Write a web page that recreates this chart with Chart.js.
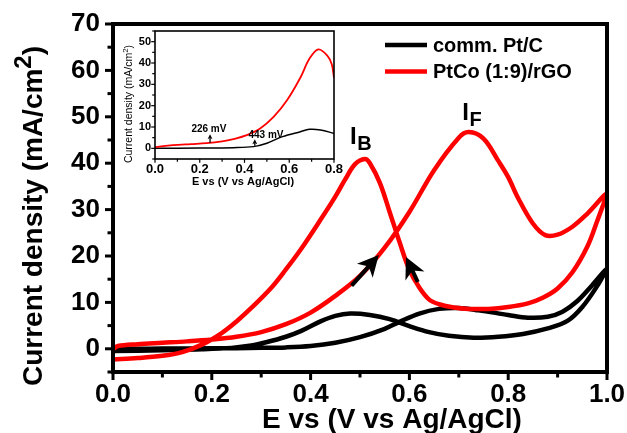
<!DOCTYPE html>
<html>
<head>
<meta charset="utf-8">
<title>CV PtCo/rGO vs Pt/C</title>
<script src="https://cdn.jsdelivr.net/npm/chart.js@4.4.1/dist/chart.umd.min.js"></script>
<style>
  html, body { margin: 0; padding: 0; background: #fff; }
  #wrap { position: relative; width: 627px; height: 433px; overflow: hidden; }
  canvas { position: absolute; }
  #main { left: 0; top: 0; }
  #inset { left: 115px; top: 27px; }
</style>
</head>
<body>
<div id="wrap">
  <canvas id="main" width="627" height="433"></canvas>
  <canvas id="inset" width="237" height="168"></canvas>
</div>
<script>
// E in V vs Ag/AgCl, j in mA/cm2

// PtCo (1:9)/rGO, forward (anodic) scan then reverse scan
const ptcoFwdE = [0, 0.01, 0.05, 0.1, 0.15, 0.2, 0.25, 0.3, 0.35, 0.4, 0.45, 0.5, 0.55, 0.6, 0.65, 0.7, 0.72, 0.75, 0.78, 0.8, 0.82, 0.85, 0.875, 0.9, 0.93, 0.96, 1.0];
const ptcoFwdJ = [-0.1, 0.6, 1.0, 1.3, 1.6, 2.0, 2.6, 3.6, 5.3, 7.8, 11.4, 15.7, 21.8, 29.5, 38.5, 45.5, 46.7, 45.3, 40.5, 37.0, 32.5, 27.0, 24.5, 24.6, 26.3, 29.1, 33.4];
const ptcoRevE = [1.0, 0.98, 0.96, 0.93, 0.9, 0.87, 0.84, 0.8, 0.76, 0.72, 0.69, 0.66, 0.64, 0.62, 0.6, 0.58, 0.56, 0.54, 0.52, 0.51, 0.49, 0.47, 0.45, 0.42, 0.38, 0.35, 0.32, 0.28, 0.25, 0.22, 0.18, 0.14, 0.1, 0.05, 0.0];
const ptcoRevJ = [33.4, 27.5, 22.0, 16.5, 13.0, 11.0, 9.8, 9.0, 8.6, 8.6, 8.9, 9.6, 10.6, 13.2, 17.0, 23.0, 29.5, 35.8, 40.0, 40.9, 39.8, 36.5, 32.8, 27.8, 21.4, 17.1, 13.1, 8.8, 5.9, 3.4, 0.9, -0.7, -1.5, -2.0, -2.3];

// comm. Pt/C
const ptFwdE = [0, 0.05, 0.1, 0.2, 0.3, 0.35, 0.4, 0.45, 0.5, 0.55, 0.58, 0.62, 0.66, 0.7, 0.74, 0.8, 0.84, 0.88, 0.91, 0.94, 0.97, 1.0];
const ptFwdJ = [0.0, 0.0, 0.05, 0.1, 0.2, 0.3, 0.6, 1.3, 2.5, 4.3, 5.8, 7.6, 8.6, 8.8, 8.3, 7.3, 6.7, 6.9, 8.0, 10.3, 13.7, 17.3];
const ptRevE = [1.0, 0.98, 0.95, 0.92, 0.88, 0.83, 0.78, 0.73, 0.68, 0.64, 0.6, 0.56, 0.52, 0.48, 0.45, 0.42, 0.38, 0.35, 0.31, 0.28, 0.24, 0.18, 0.1, 0.0];
const ptRevJ = [17.3, 13.5, 9.0, 6.0, 4.4, 3.2, 2.6, 2.4, 2.8, 3.6, 4.9, 6.4, 7.3, 7.6, 7.1, 5.9, 3.8, 2.6, 1.4, 0.7, 0.2, -0.1, -0.3, -0.5];

// inset: forward scans only
const insetPtcoE = [0, 0.08, 0.16, 0.23, 0.3, 0.36, 0.41, 0.47, 0.53, 0.59, 0.65, 0.69, 0.73, 0.77, 0.79, 0.8];
const insetPtcoJ = [0.6, 1.5, 2.0, 2.4, 3.3, 4.6, 6.2, 9.3, 14.7, 22.5, 33.2, 42.0, 46.4, 43.5, 39.4, 33.0];
const insetPtE = [0, 0.2, 0.35, 0.44, 0.5, 0.57, 0.65, 0.69, 0.74, 0.8];
const insetPtJ = [0, 0.1, 0.3, 0.8, 2.4, 5.5, 7.8, 8.9, 8.6, 7.0];

// tick labels
const mainXLabels = [0, 0.2, 0.4, 0.6, 0.8, 1.0];
const mainYLabels = [0, 10, 20, 30, 40, 50, 60, 70];
const insetXLabels = [0, 0.2, 0.4, 0.6, 0.8];
const insetYLabels = [0, 10, 20, 30, 40, 50];

// annotations (data units)
const peakLabels = [
  { main: 'I', sub: 'B', E: 0.48, J: 44.1 },
  { main: 'I', sub: 'F', E: 0.707, J: 49.3 }
];
const scanArrows = [
  { from: [0.483, 13.6], to: [0.538, 20.2] },
  { from: [0.617, 14.4], to: [0.593, 19.8] }
];
const onsetNotes = [
  { text: '226 mV', E: 0.241, J: 9.0, from: [0.246, 2.6], to: [0.246, 6.6] },
  { text: '443 mV', E: 0.496, J: 6.2, from: [0.446, 1.2], to: [0.446, 4.2] }
];

const FONT = "'Liberation Sans', Arial, sans-serif";
Chart.defaults.font.family = FONT;
Chart.defaults.color = '#000';

const pts = (xs, ys) => xs.map((x, i) => ({ x: x, y: ys[i] }));
// forward + reverse as one closed loop (skip the shared turning point)
const loop = (fE, fJ, rE, rJ) => pts(fE, fJ).concat(pts(rE, rJ).slice(1));
const hasLabel = (list, v) => list.some(l => Math.abs(l - v) < 1e-6);

function drawArrow(ctx, x1, y1, x2, y2, lw, head) {
  const a = Math.atan2(y2 - y1, x2 - x1);
  const c = Math.cos(a), s = Math.sin(a);
  ctx.lineWidth = lw;
  ctx.beginPath();
  ctx.moveTo(x1, y1);
  ctx.lineTo(x2 - c * head * 0.7, y2 - s * head * 0.7);
  ctx.stroke();
  ctx.beginPath();
  ctx.moveTo(x2, y2);
  ctx.lineTo(x2 - head * c + head * 0.5 * s, y2 - head * s - head * 0.5 * c);
  ctx.lineTo(x2 - head * 0.72 * c, y2 - head * 0.72 * s);
  ctx.lineTo(x2 - head * c - head * 0.5 * s, y2 - head * s + head * 0.5 * c);
  ctx.closePath();
  ctx.fill();
}

function drawParts(ctx, cx, by, parts, rotate) {
  ctx.save();
  ctx.translate(cx, by);
  if (rotate) ctx.rotate(-Math.PI / 2);
  ctx.textBaseline = 'alphabetic';
  ctx.textAlign = 'left';
  let w = 0;
  parts.forEach(p => { ctx.font = p.font; w += ctx.measureText(p.t).width; });
  let x = -w / 2;
  parts.forEach(p => {
    ctx.font = p.font;
    ctx.fillText(p.t, x, -(p.rise || 0));
    x += ctx.measureText(p.t).width;
  });
  ctx.restore();
}

// box + outward major/minor ticks
const framePlugin = {
  id: 'frame',
  afterDraw(chart, args, o) {
    const { ctx, chartArea: a, scales } = chart;
    ctx.save();
    ctx.strokeStyle = '#000';
    ctx.lineWidth = o.border;
    ctx.strokeRect(a.left, a.top, a.right - a.left, a.bottom - a.top);
    ctx.lineWidth = o.tickWidth;
    scales.x.ticks.forEach(t => {
      const px = scales.x.getPixelForValue(t.value);
      const len = t.label !== '' ? o.major : o.minor;
      ctx.beginPath();
      ctx.moveTo(px, a.bottom);
      ctx.lineTo(px, a.bottom + o.border / 2 + len);
      ctx.stroke();
    });
    scales.y.ticks.forEach(t => {
      const py = scales.y.getPixelForValue(t.value);
      const len = t.label !== '' ? o.major : o.minor;
      ctx.beginPath();
      ctx.moveTo(a.left, py);
      ctx.lineTo(a.left - o.border / 2 - len, py);
      ctx.stroke();
    });
    ctx.restore();
  }
};

const mainDeco = {
  id: 'mainDeco',
  afterDraw(chart) {
    const { ctx, chartArea: a, scales } = chart;
    const X = v => scales.x.getPixelForValue(v);
    const Y = v => scales.y.getPixelForValue(v);
    ctx.save();
    ctx.fillStyle = '#000';
    ctx.strokeStyle = '#000';

    // scan direction arrows
    scanArrows.forEach(ar => drawArrow(ctx, X(ar.from[0]), Y(ar.from[1]), X(ar.to[0]), Y(ar.to[1]), 4, 21));

    // peak labels
    peakLabels.forEach(p => {
      ctx.textAlign = 'left';
      ctx.textBaseline = 'alphabetic';
      ctx.font = 'bold 24px ' + FONT;
      const x = X(p.E), y = Y(p.J);
      ctx.fillText(p.main, x, y);
      const w = ctx.measureText(p.main).width;
      ctx.font = 'bold 20px ' + FONT;
      ctx.fillText(p.sub, x + w + 0.5, y + 6);
    });

    // legend
    chart.data.datasets.forEach((ds, i) => {
      const y = a.top + 21 + i * 26.5;
      ctx.lineWidth = 4.5;
      ctx.strokeStyle = ds.borderColor;
      ctx.beginPath();
      ctx.moveTo(a.right - 222, y);
      ctx.lineTo(a.right - 180, y);
      ctx.stroke();
      ctx.fillStyle = '#000';
      ctx.font = 'bold 20px ' + FONT;
      ctx.textBaseline = 'middle';
      ctx.textAlign = 'left';
      ctx.fillText(ds.label, a.right - 174, y + 1);
    });

    // axis titles
    ctx.fillStyle = '#000';
    drawParts(ctx, 392, 428, [{ t: 'E vs (V vs Ag/AgCl)', font: 'bold 28px ' + FONT }], false);
    drawParts(ctx, 42, 216, [
      { t: 'Current density (mA/cm', font: 'bold 28px ' + FONT },
      { t: '2', font: 'bold 24px ' + FONT, rise: 11 },
      { t: ')', font: 'bold 28px ' + FONT }
    ], true);
    ctx.restore();
  }
};

const insetDeco = {
  id: 'insetDeco',
  afterDraw(chart) {
    const { ctx, scales } = chart;
    const X = v => scales.x.getPixelForValue(v);
    const Y = v => scales.y.getPixelForValue(v);
    ctx.save();
    ctx.fillStyle = '#000';
    ctx.strokeStyle = '#000';
    onsetNotes.forEach(n => {
      ctx.font = 'bold 10px ' + FONT;
      ctx.textAlign = 'center';
      ctx.textBaseline = 'middle';
      ctx.fillText(n.text, X(n.E), Y(n.J));
      drawArrow(ctx, X(n.from[0]), Y(n.from[1]), X(n.to[0]), Y(n.to[1]), 1.3, 5);
    });
    drawParts(ctx, 128, 158, [{ t: 'E vs (V vs Ag/AgCl)', font: 'bold 11px ' + FONT }], false);
    drawParts(ctx, 17, 77, [
      { t: 'Current density (mA/cm', font: '10.5px ' + FONT },
      { t: '2', font: '8px ' + FONT, rise: 4 },
      { t: ')', font: '10.5px ' + FONT }
    ], true);
    ctx.restore();
  }
};

// keep the plot box exactly where layout padding + afterFit put it
const fitX = h => s => { s.height = h; s.paddingLeft = 0; s.paddingRight = 0; };
const fitY = w => s => { s.width = w; s.paddingTop = 0; s.paddingBottom = 0; };

new Chart(document.getElementById('main'), {
  type: 'scatter',
  data: {
    datasets: [
      { label: 'comm. Pt/C', data: loop(ptFwdE, ptFwdJ, ptRevE, ptRevJ), borderColor: '#000000', borderWidth: 4.5, showLine: true, order: 1 },
      { label: 'PtCo (1:9)/rGO', data: loop(ptcoFwdE, ptcoFwdJ, ptcoRevE, ptcoRevJ), borderColor: '#ff0000', borderWidth: 4.5, showLine: true, order: 0 }
    ]
  },
  options: {
    responsive: false,
    animation: false,
    devicePixelRatio: 1,
    layout: { padding: { top: 24, right: 20, left: 0, bottom: 0 } },
    elements: { point: { radius: 0 }, line: { tension: 0.35, fill: false } },
    plugins: {
      legend: { display: false },
      tooltip: { enabled: false },
      frame: { border: 4, major: 6, minor: 3.5, tickWidth: 3 }
    },
    scales: {
      x: {
        type: 'linear', min: 0, max: 1,
        afterFit: fitX(61),
        grid: { display: false, drawTicks: false },
        border: { display: false },
        ticks: {
          stepSize: 0.1, autoSkip: false, maxRotation: 0, padding: 7,
          font: { size: 26, weight: 'bold' },
          callback: v => hasLabel(mainXLabels, v) ? v.toFixed(1) : ''
        }
      },
      y: {
        type: 'linear', min: -5, max: 70,
        afterFit: fitY(113),
        grid: { display: false, drawTicks: false },
        border: { display: false },
        ticks: {
          stepSize: 5, autoSkip: false, padding: 13,
          font: { size: 26, weight: 'bold' },
          callback: v => hasLabel(mainYLabels, v) ? String(v) : ''
        }
      }
    }
  },
  plugins: [framePlugin, mainDeco]
});

new Chart(document.getElementById('inset'), {
  type: 'scatter',
  data: {
    datasets: [
      { label: 'comm. Pt/C', data: pts(insetPtE, insetPtJ), borderColor: '#000000', borderWidth: 1.5, showLine: true, order: 1 },
      { label: 'PtCo (1:9)/rGO', data: pts(insetPtcoE, insetPtcoJ), borderColor: '#ff0000', borderWidth: 1.8, showLine: true, order: 0 }
    ]
  },
  options: {
    responsive: false,
    animation: false,
    devicePixelRatio: 1,
    layout: { padding: { top: 4, right: 18, left: 0, bottom: 0 } },
    elements: { point: { radius: 0 }, line: { tension: 0.35, fill: false } },
    plugins: {
      legend: { display: false },
      tooltip: { enabled: false },
      frame: { border: 1.6, major: 3, minor: 2, tickWidth: 1.2 }
    },
    scales: {
      x: {
        type: 'linear', min: 0, max: 0.8,
        afterFit: fitX(36),
        grid: { display: false, drawTicks: false },
        border: { display: false },
        ticks: {
          stepSize: 0.1, autoSkip: false, maxRotation: 0, padding: 3,
          font: { size: 13, weight: 'bold' },
          callback: v => hasLabel(insetXLabels, v) ? v.toFixed(1) : ''
        }
      },
      y: {
        type: 'linear', min: -5, max: 55,
        afterFit: fitY(40),
        grid: { display: false, drawTicks: false },
        border: { display: false },
        ticks: {
          stepSize: 5, autoSkip: false, padding: 4,
          font: { size: 11, weight: 'bold' },
          callback: v => hasLabel(insetYLabels, v) ? String(v) : ''
        }
      }
    }
  },
  plugins: [framePlugin, insetDeco]
});
</script>
</body>
</html>
